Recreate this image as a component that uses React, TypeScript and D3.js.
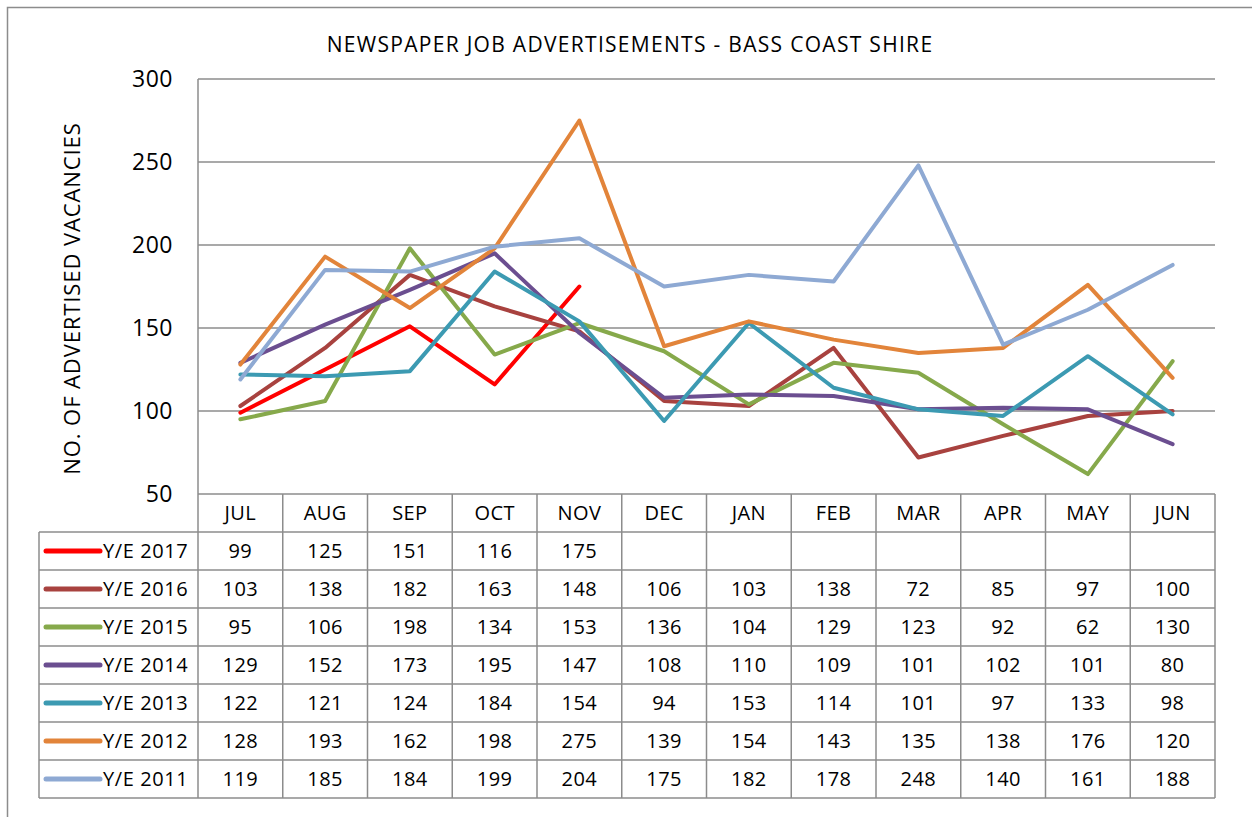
import * as d3 from 'd3';

const months = ['JUL', 'AUG', 'SEP', 'OCT', 'NOV', 'DEC', 'JAN', 'FEB', 'MAR', 'APR', 'MAY', 'JUN'];
const seriesNames = ['Y/E 2017', 'Y/E 2016', 'Y/E 2015', 'Y/E 2014', 'Y/E 2013', 'Y/E 2012', 'Y/E 2011'];
const seriesColors = ['#FF0000', '#A8423F', '#86A94B', '#6B4E90', '#3C9AB2', '#E2843A', '#8EA9D3'];

const ye2017 = [99, 125, 151, 116, 175, null, null, null, null, null, null, null];
const ye2016 = [103, 138, 182, 163, 148, 106, 103, 138, 72, 85, 97, 100];
const ye2015 = [95, 106, 198, 134, 153, 136, 104, 129, 123, 92, 62, 130];
const ye2014 = [129, 152, 173, 195, 147, 108, 110, 109, 101, 102, 101, 80];
const ye2013 = [122, 121, 124, 184, 154, 94, 153, 114, 101, 97, 133, 98];
const ye2012 = [128, 193, 162, 198, 275, 139, 154, 143, 135, 138, 176, 120];
const ye2011 = [119, 185, 184, 199, 204, 175, 182, 178, 248, 140, 161, 188];
const seriesValues = [ye2017, ye2016, ye2015, ye2014, ye2013, ye2012, ye2011];

const yTicks = [50, 100, 150, 200, 250, 300];

const W = 1252;
const H = 817;
const left = 198;
const right = 1215;
const top = 79;
const bottom = 494;
const rowH = 38;
const legendLeft = 39;
const font = '"Open Sans", "Liberation Sans", sans-serif';
const gridColor = '#8c8c8c';

export default function App() {
    const x = d3.scaleBand<string>().domain(months).range([left, right]).paddingInner(0).paddingOuter(0);
    const cx = (m: string) => (x(m) as number) + x.bandwidth() / 2;
    const y = d3.scaleLinear().domain([50, 300]).range([bottom, top]);

    const line = d3
        .line<number | null>()
        .defined(d => d != null)
        .x((_, i) => cx(months[i]))
        .y(d => y(d as number));

    const tableTop = bottom + rowH;
    const tableBottom = tableTop + rowH * seriesNames.length;

    return (
        <svg width={W} height={H} style={{ position: 'absolute', left: 0, top: 0, background: '#fff' }}>
            <rect x={7.5} y={7.5} width={W + 10} height={H + 10} fill="#fff" stroke={gridColor} strokeWidth={1.5} />
            <text x={630} y={52} textAnchor="middle" fontFamily={font} fontSize={21} letterSpacing={1.3} fill="#000">
                NEWSPAPER JOB ADVERTISEMENTS - BASS COAST SHIRE
            </text>
            <text
                transform={`translate(80, ${(top + bottom) / 2 + 12}) rotate(-90)`}
                textAnchor="middle"
                fontFamily={font}
                fontSize={22}
                letterSpacing={0.9}
                fill="#000"
            >
                NO. OF ADVERTISED VACANCIES
            </text>

            {/* gridlines + y ticks */}
            {yTicks.map(t => (
                <g key={t}>
                    <line x1={left} x2={right} y1={y(t)} y2={y(t)} stroke={gridColor} strokeWidth={1.5} />
                    <text x={173} y={y(t) + 8} textAnchor="end" fontFamily={font} fontSize={23} letterSpacing={0.5} fill="#000">
                        {t}
                    </text>
                </g>
            ))}
            <line x1={left} x2={left} y1={top} y2={tableBottom} stroke={gridColor} strokeWidth={1.5} />

            {/* series lines */}
            {seriesValues.map((vals, i) => (
                <path
                    key={seriesNames[i]}
                    d={line(vals) || ''}
                    fill="none"
                    stroke={seriesColors[i]}
                    strokeWidth={4}
                    strokeLinejoin="round"
                    strokeLinecap="round"
                />
            ))}

            {/* data table */}
            {months.map(m => (
                <line key={'v' + m} x1={(x(m) as number) + x.bandwidth()} x2={(x(m) as number) + x.bandwidth()} y1={bottom} y2={tableBottom} stroke={gridColor} strokeWidth={1.5} />
            ))}
            <line x1={legendLeft} x2={legendLeft} y1={tableTop} y2={tableBottom} stroke={gridColor} strokeWidth={1.5} />
            {d3.range(seriesNames.length + 1).map(r => (
                <line key={'h' + r} x1={legendLeft} x2={right} y1={tableTop + r * rowH} y2={tableTop + r * rowH} stroke={gridColor} strokeWidth={1.5} />
            ))}
            {months.map(m => (
                <text key={'m' + m} x={cx(m)} y={bottom + rowH / 2 + 7} textAnchor="middle" fontFamily={font} fontSize={20} letterSpacing={0.4} fill="#000">
                    {m}
                </text>
            ))}
            {seriesNames.map((name, i) => {
                const ry = tableTop + i * rowH + rowH / 2;
                return (
                    <g key={name}>
                        <line x1={46} x2={100} y1={ry} y2={ry} stroke={seriesColors[i]} strokeWidth={5} strokeLinecap="round" />
                        <text x={103} y={ry + 7} fontFamily={font} fontSize={20} letterSpacing={0.6} fill="#000">
                            {name}
                        </text>
                        {seriesValues[i].map((v, j) =>
                            v == null ? null : (
                                <text key={j} x={cx(months[j])} y={ry + 7} textAnchor="middle" fontFamily={font} fontSize={20} letterSpacing={0.4} fill="#000">
                                    {v}
                                </text>
                            )
                        )}
                    </g>
                );
            })}
        </svg>
    );
}
